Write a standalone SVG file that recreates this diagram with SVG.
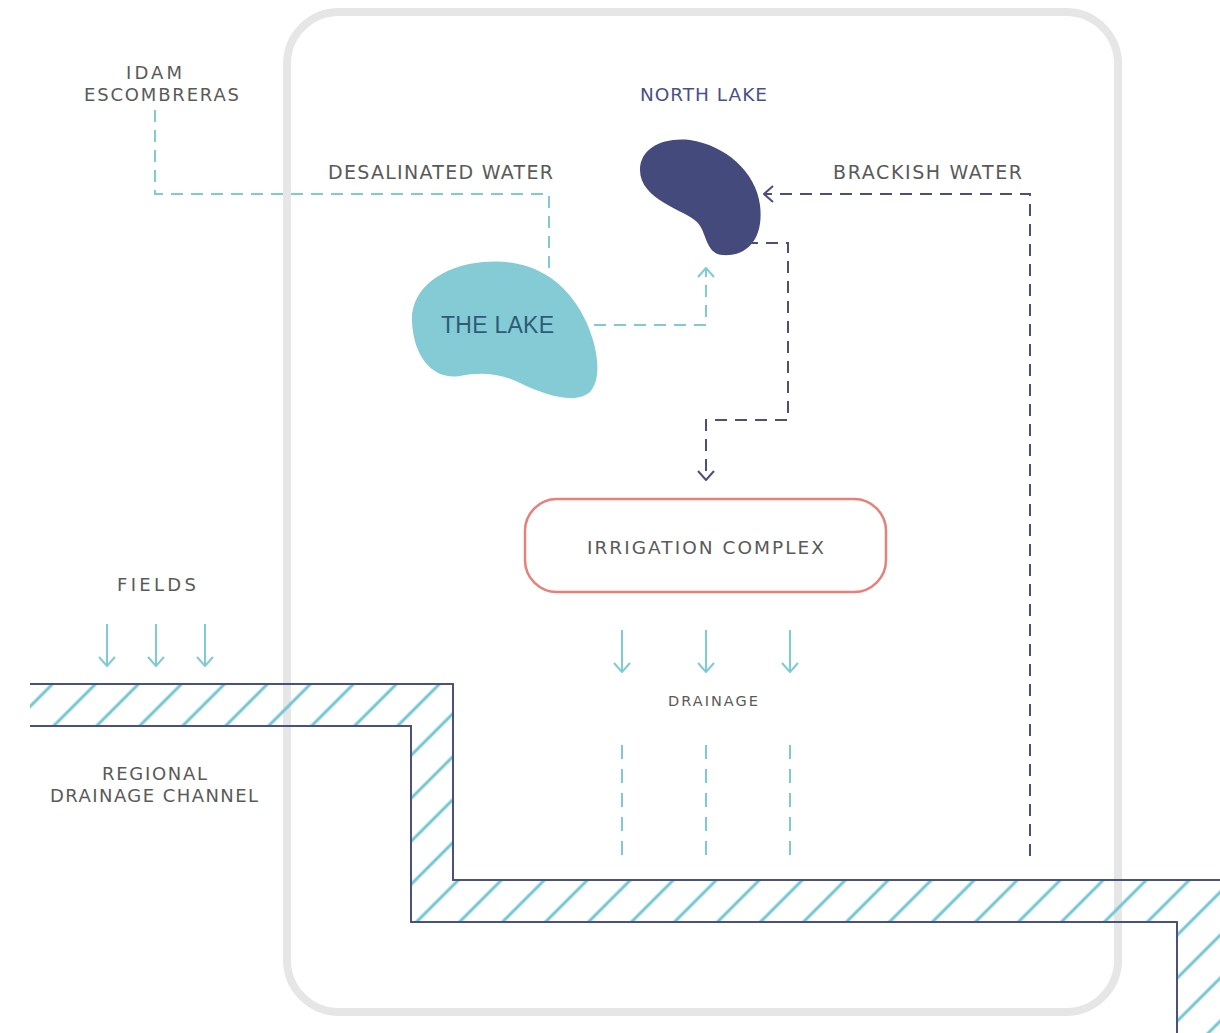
<svg xmlns="http://www.w3.org/2000/svg" width="1220" height="1033" viewBox="0 0 1220 1033">
<style>
.lbl{font-family:"DejaVu Sans","Liberation Sans",Arial,sans-serif;fill:#5a5a5a;text-anchor:middle}
.teal{fill:none;stroke:#7fcbd5;stroke-width:2}
.navy{fill:none;stroke:#4a4f7e;stroke-width:2}
.dash{stroke-dasharray:12 8}
</style>
<defs>
<pattern id="hatch" patternUnits="userSpaceOnUse" width="30.4" height="30.4" patternTransform="rotate(45)">
<line x1="4" y1="-5" x2="4" y2="36" stroke="#72c7d1" stroke-width="3"/>
</pattern>
<marker id="chevT" markerUnits="userSpaceOnUse" viewBox="0 0 12 18" refX="11" refY="9" markerWidth="12" markerHeight="18" orient="auto">
<path d="M2,1 L11,9 L2,17" fill="none" stroke="#7fcbd5" stroke-width="2"/>
</marker>
<marker id="chevN" markerUnits="userSpaceOnUse" viewBox="0 0 12 18" refX="11" refY="9" markerWidth="12" markerHeight="18" orient="auto">
<path d="M2,1 L11,9 L2,17" fill="none" stroke="#4a4f7e" stroke-width="2"/>
</marker>
</defs>
<rect width="1220" height="1033" fill="#ffffff"/>
<g id="boundary">
<rect x="287" y="12" width="831" height="1000" rx="52" fill="none" stroke="#e6e6e6" stroke-width="8"/>
</g>
<g id="regional-drainage-channel">
<polygon points="30,684 453,684 453,880 1220,880 1220,1033 1177,1033 1177,922 411,922 411,726 30,726" fill="url(#hatch)"/>
<path d="M30,684 H453 V880 H1220 M30,726 H411 V922 H1177 V1033" fill="none" stroke="#4a5080" stroke-width="2"/>
<text class="lbl" x="154.5" y="780" font-size="18" textLength="105" lengthAdjust="spacing">REGIONAL</text>
<text class="lbl" x="154" y="802" font-size="18" textLength="208" lengthAdjust="spacing">DRAINAGE CHANNEL</text>
</g>
<g id="idam">
<text class="lbl" x="154" y="79" font-size="18" textLength="56" lengthAdjust="spacing">IDAM</text>
<text class="lbl" x="161.5" y="101" font-size="18" textLength="155" lengthAdjust="spacing">ESCOMBRERAS</text>
</g>
<g id="the-lake">
<path d="M412,322 C410,290 440,266 483,262 C525,258 560,275 580,310 C595,335 605,375 590,392 C575,405 545,395 520,383 C500,373 480,372 460,376 C435,380 414,360 412,322 Z" fill="#84cbd6"/>
<text x="497.5" y="333" font-size="23" font-family="Liberation Sans,Arial,sans-serif" fill="#2e5b76" text-anchor="middle" textLength="113" lengthAdjust="spacing">THE LAKE</text>
</g>
<g id="north-lake">
<path d="M640,170 C640,148 663,137 690,140 C725,145 756,172 760,205 C764,238 748,257 722,255 C705,253 707,232 697,222 C685,210 640,200 640,170 Z" fill="#444b7c"/>
<text x="703.5" y="101" font-size="18.5" font-family="DejaVu Sans,Liberation Sans,Arial,sans-serif" fill="#4a4f87" text-anchor="middle" textLength="127" lengthAdjust="spacing">NORTH LAKE</text>
</g>
<g id="irrigation-complex">
<rect x="525" y="499" width="361" height="93" rx="32" fill="none" stroke="#e8807a" stroke-width="2.5"/>
<text class="lbl" x="705.5" y="554" font-size="18.5" textLength="237" lengthAdjust="spacing">IRRIGATION COMPLEX</text>
</g>
<g id="fields">
<text class="lbl" x="156.5" y="591" font-size="18" textLength="79" lengthAdjust="spacing">FIELDS</text>
</g>
<g id="drainage">
<text class="lbl" x="713" y="706" font-size="14.5" textLength="90" lengthAdjust="spacing">DRAINAGE</text>
</g>
<g id="labels">
<text class="lbl" x="440.5" y="179" font-size="19" textLength="225" lengthAdjust="spacing">DESALINATED WATER</text>
<text class="lbl" x="927.5" y="179" font-size="19" textLength="189" lengthAdjust="spacing">BRACKISH WATER</text>
</g>
<g id="connectors">
<path class="teal dash" d="M155,110 V194 H549 V268"/>
<path class="teal dash" d="M594,325 H706 V268" marker-end="url(#chevT)"/>
<path class="navy dash" d="M1030,856 V194 H764" marker-end="url(#chevN)"/>
<path class="navy dash" d="M746,243 H788 V420 H706 V480" marker-end="url(#chevN)"/>
<path class="teal" d="M107,624 V666" marker-end="url(#chevT)"/>
<path class="teal" d="M156,624 V666" marker-end="url(#chevT)"/>
<path class="teal" d="M205,624 V666" marker-end="url(#chevT)"/>
<path class="teal" d="M622,630 V672" marker-end="url(#chevT)"/>
<path class="teal" d="M706,630 V672" marker-end="url(#chevT)"/>
<path class="teal" d="M790,630 V672" marker-end="url(#chevT)"/>
<path class="teal" d="M622,745 V860 M706,745 V860 M790,745 V860" stroke-dasharray="14 10"/>
</g>
</svg>
